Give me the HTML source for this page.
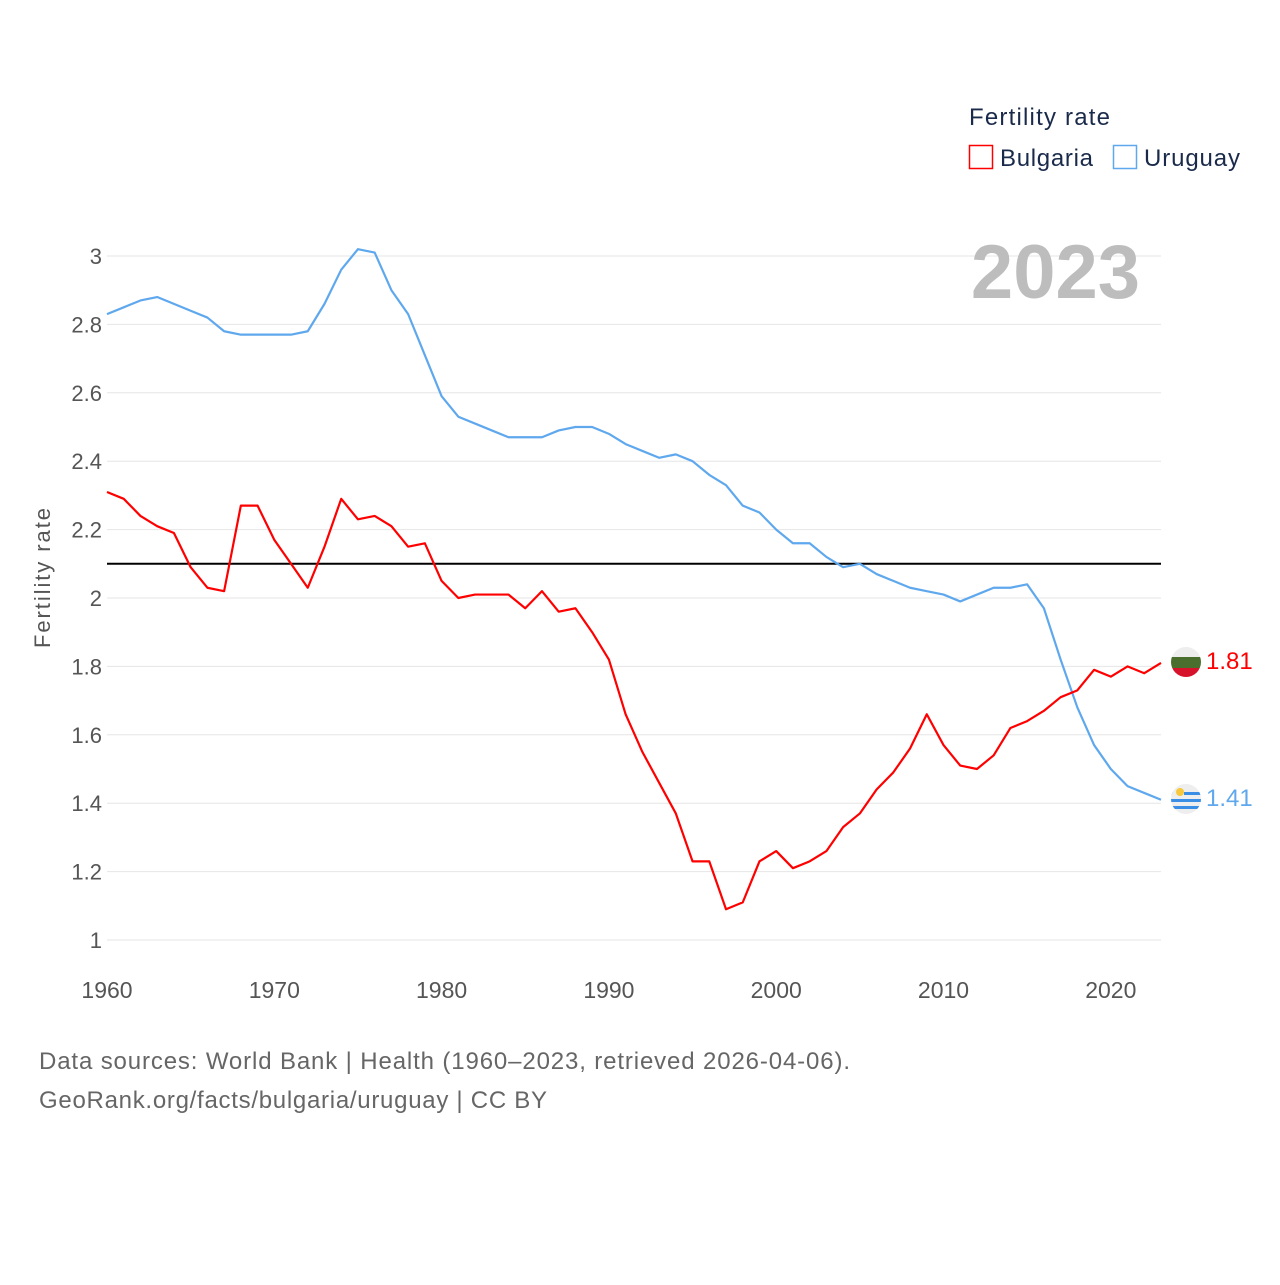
<!DOCTYPE html>
<html><head><meta charset="utf-8"><style>
body{margin:0;background:#fff;font-family:"Liberation Sans",sans-serif}
svg text{font-family:"Liberation Sans",sans-serif}
</style></head><body>
<svg id="chart" width="1280" height="1280" xmlns="http://www.w3.org/2000/svg">
<defs>
<clipPath id="cf1"><circle cx="1186" cy="662" r="15"/></clipPath>
<clipPath id="cf2"><circle cx="1186" cy="799" r="15"/></clipPath>
</defs>
<g id="grid"></g>
<g id="yticks"></g>
<g id="xticks"></g>
<text x="50" y="578" font-size="22" fill="#555" text-anchor="middle" transform="rotate(-90 50 578)" textLength="140">Fertility rate</text>
<text x="1140" y="298" font-size="76" font-weight="bold" fill="#bdbdbd" text-anchor="end">2023</text>
<g id="series"></g>
<g>
<text x="969" y="125" font-size="24" fill="#1a2a4a" textLength="141">Fertility rate</text>
<g><rect x="969.5" y="145.5" width="23" height="23" fill="none" stroke="#ff0000" stroke-width="1.5"/><text x="1000" y="166" font-size="24" fill="#1a2a4a" textLength="93">Bulgaria</text></g>
<g><rect x="1113.5" y="145.5" width="23" height="23" fill="none" stroke="#5fa8ee" stroke-width="1.5"/><text x="1144" y="166" font-size="24" fill="#1a2a4a" textLength="96">Uruguay</text></g>
</g>
<g clip-path="url(#cf1)">
<rect x="1170" y="646" width="32" height="11" fill="#eee"/><rect x="1170" y="657" width="32" height="11" fill="#4a6e2e"/><rect x="1170" y="668" width="32" height="11" fill="#d6132a"/>
</g>
<g clip-path="url(#cf2)">
<rect x="1170" y="783" width="32" height="32" fill="#eee"/>
<rect x="1170" y="792" width="32" height="3" fill="#3a8ee6"/><rect x="1170" y="799" width="32" height="3" fill="#3a8ee6"/><rect x="1170" y="806" width="32" height="3" fill="#3a8ee6"/>
<rect x="1170" y="783" width="14" height="13" fill="#eee"/><circle cx="1180" cy="792" r="4" fill="#f8c83c"/>
</g>
<text x="1206" y="669" font-size="24" fill="#ff0000">1.81</text>
<text x="1206" y="806" font-size="24" fill="#5fa8ee">1.41</text>
<text x="39" y="1069" font-size="24" fill="#666" textLength="811">Data sources: World Bank | Health (1960–2023, retrieved 2026-04-06).</text>
<text x="39" y="1108" font-size="24" fill="#666" textLength="508">GeoRank.org/facts/bulgaria/uruguay | CC BY</text>
</svg>
<script>
const years=[];for(let y=1960;y<=2023;y++)years.push(y);
const bulgaria=[2.31,2.29,2.24,2.21,2.19,2.09,2.03,2.02,2.27,2.27,2.17,2.10,2.03,2.15,2.29,2.23,2.24,2.21,2.15,2.16,2.05,2.00,2.01,2.01,2.01,1.97,2.02,1.96,1.97,1.90,1.82,1.66,1.55,1.46,1.37,1.23,1.23,1.09,1.11,1.23,1.26,1.21,1.23,1.26,1.33,1.37,1.44,1.49,1.56,1.66,1.57,1.51,1.50,1.54,1.62,1.64,1.67,1.71,1.73,1.79,1.77,1.80,1.78,1.81];
const uruguay=[2.83,2.85,2.87,2.88,2.86,2.84,2.82,2.78,2.77,2.77,2.77,2.77,2.78,2.86,2.96,3.02,3.01,2.90,2.83,2.71,2.59,2.53,2.51,2.49,2.47,2.47,2.47,2.49,2.50,2.50,2.48,2.45,2.43,2.41,2.42,2.40,2.36,2.33,2.27,2.25,2.20,2.16,2.16,2.12,2.09,2.10,2.07,2.05,2.03,2.02,2.01,1.99,2.01,2.03,2.03,2.04,1.97,1.82,1.68,1.57,1.50,1.45,1.43,1.41];
const yTicks=[1,1.2,1.4,1.6,1.8,2,2.2,2.4,2.6,2.8,3];
const xTicks=[1960,1970,1980,1990,2000,2010,2020];
const refValue=2.1;
const NS="http://www.w3.org/2000/svg";
const X=v=>107+(v-1960)*(1161-107)/63;
const Y=v=>940-(v-1)*342;
function mk(tag,attrs,parent){const e=document.createElementNS(NS,tag);for(const k in attrs)e.setAttribute(k,attrs[k]);parent.appendChild(e);return e;}
const grid=document.getElementById('grid'),yt=document.getElementById('yticks'),xt=document.getElementById('xticks'),ser=document.getElementById('series');
yTicks.forEach(t=>{
 const l=mk('line',{x1:107,x2:1161,y1:Y(t),y2:Y(t),stroke:'#e6e6e6','stroke-width':1},grid);
 
 
 const tx=mk('text',{x:102,y:Y(t)+8,'font-size':22,fill:'#555','text-anchor':'end'},yt);
 tx.textContent=String(t);
 
 
});
xTicks.forEach(t=>{
 const tx=mk('text',{x:X(t),y:998,'font-size':23,fill:'#555','text-anchor':'middle'},xt);
 tx.textContent=String(t);
 
 
});
const ref=mk('line',{x1:107,x2:1161,y1:Y(refValue),y2:Y(refValue),stroke:'#000','stroke-width':2},ser);


function line(data,color,name){
 const p=mk('polyline',{points:data.map((v,i)=>X(years[i])+','+Y(v)).join(' '),fill:'none',stroke:color,'stroke-width':2.2,'stroke-linejoin':'round'},ser);
 
 
}
line(uruguay,'#5fa8ee','uruguay-line');
line(bulgaria,'#ff0000','bulgaria-line');
</script>
</body></html>
